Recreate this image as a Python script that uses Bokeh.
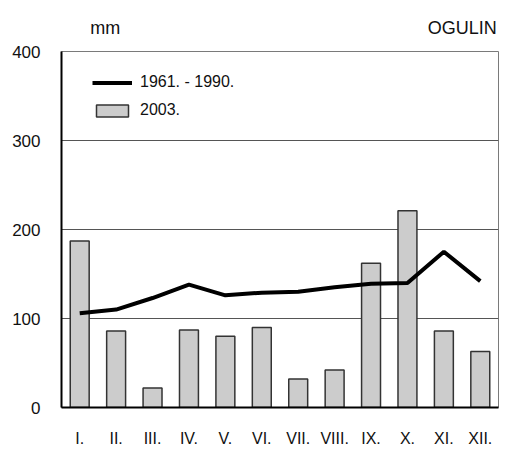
from bokeh.plotting import figure
from bokeh.layouts import column
from bokeh.models import Range1d, FixedTicker, Label, Legend, LegendItem, ColumnDataSource
from bokeh.embed import file_html
from bokeh.resources import INLINE

months = ["I.", "II.", "III.", "IV.", "V.", "VI.", "VII.", "VIII.", "IX.", "X.", "XI.", "XII."]
precip_2003 = [187, 86, 22, 87, 80, 90, 32, 42, 162, 221, 86, 63]
normal_1961_1990 = [106, 110, 123, 138, 126, 129, 130, 135, 139, 140, 175, 142]
y_ticks = [0, 100, 200, 300, 400]
grid_ticks = [100, 200, 300]
station = "OGULIN"
unit = "mm"
label_line = "1961. - 1990."
label_bar = "2003."

FONT = "Liberation Sans"
TXT = "#111111"
W = 500
HEAD_H = 40

# ---- header strip (unit + station name) ----
hf = figure(width=W, height=HEAD_H, output_backend="svg", toolbar_location=None,
            x_range=Range1d(0, W), y_range=Range1d(0, HEAD_H),
            x_axis_location=None, y_axis_location=None, min_border=0)
hf.outline_line_color = None
hf.grid.visible = False
hf.add_layout(Label(x=33, y=13, text=unit, text_font=FONT, text_font_size="18px",
                    text_color=TXT, text_baseline="alphabetic", text_align="left"))
hf.add_layout(Label(x=498, y=13, text=station, text_font=FONT, text_font_size="18px",
                    text_color=TXT, text_baseline="alphabetic", text_align="right"))

# ---- main chart ----
xs = [i + 0.5 for i in range(len(months))]
src = ColumnDataSource(dict(x=xs, bars=precip_2003, norm=normal_1961_1990))

p = figure(width=W, height=449 - HEAD_H, output_backend="svg", toolbar_location=None,
           x_range=Range1d(0, len(months)), y_range=Range1d(0, 400),
           min_border_left=61, min_border_right=2, min_border_top=11, min_border_bottom=41)
p.background_fill_color = "white"
p.border_fill_color = "white"
p.outline_line_color = "#7a7a7a"
p.outline_line_width = 1

bars = p.vbar(x="x", top="bars", width=0.52, bottom=0, source=src,
              fill_color="#cccccc", line_color="#333333", line_width=1.5)
line = p.line(x="x", y="norm", source=src, line_color="black", line_width=4)

p.xaxis.ticker = FixedTicker(ticks=xs)
p.xaxis.major_label_overrides = {x: m for x, m in zip(xs, months)}
p.yaxis.ticker = FixedTicker(ticks=y_ticks)
for ax in (p.xaxis[0], p.yaxis[0]):
    ax.major_tick_out = 0
    ax.major_tick_in = 0
    ax.minor_tick_out = 0
    ax.minor_tick_in = 0
    ax.axis_line_color = "black"
    ax.axis_line_width = 2
    ax.major_label_text_font = FONT
    ax.major_label_text_color = TXT
p.xaxis.major_label_text_font_size = "16px"
p.xaxis.major_label_standoff = 22
p.yaxis.major_label_text_font_size = "17px"
p.yaxis.major_label_standoff = 21

p.xgrid.visible = False
p.ygrid.ticker = FixedTicker(ticks=grid_ticks)
p.ygrid.grid_line_color = "#555555"
p.ygrid.grid_line_width = 1

legend = Legend(items=[LegendItem(label=label_line, renderers=[line]),
                       LegendItem(label=label_bar, renderers=[bars])],
                location=(31, 287), padding=0, margin=0, spacing=8,
                glyph_width=40, glyph_height=15, label_height=20, label_standoff=8,
                label_text_font=FONT, label_text_font_size="16px", label_text_color=TXT,
                border_line_alpha=0, background_fill_alpha=0)
p.add_layout(legend, "center")

layout = column(hf, p, spacing=0)
open("out.html", "w").write(file_html(layout, INLINE))
